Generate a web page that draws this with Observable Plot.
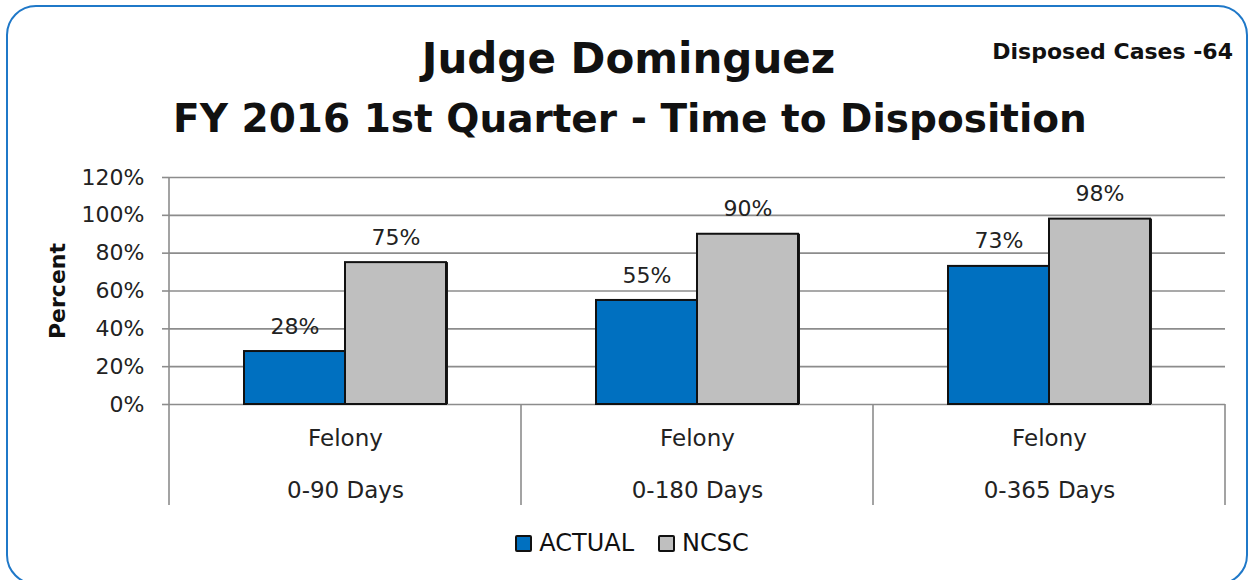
<!DOCTYPE html>
<html>
<head>
<meta charset="utf-8">
<script src="https://cdn.jsdelivr.net/npm/d3@7"></script>
<script src="https://cdn.jsdelivr.net/npm/@observablehq/plot@0.6"></script>
<style>
  html, body { margin: 0; padding: 0; background: #fff; }
  #wrap { position: relative; width: 1255px; height: 580px; overflow: hidden; font-family: "DejaVu Sans", sans-serif; color: #111; }
  #border { position: absolute; left: 6px; top: 5px; width: 1242px; height: 580px; border: 2px solid #1f78c8; border-radius: 30px; box-sizing: border-box; }
  .t { position: absolute; white-space: nowrap; line-height: 1.164; }
  #plot { position: absolute; left: 0; top: 0; }
</style>
</head>
<body>
<div id="wrap">
  <div id="border"></div>
  <div id="plot"></div>
  <div class="t" id="title1" style="left:0;width:1257px;text-align:center;top:35px;font-size:42px;font-weight:700;">Judge Dominguez</div>
  <div class="t" id="title2" style="left:0;width:1260px;text-align:center;top:96px;font-size:39px;font-weight:700;">FY 2016 1st Quarter - Time to Disposition</div>
  <div class="t" id="cases" style="right:22px;top:39px;font-size:22px;font-weight:700;">Disposed Cases -64</div>
  <div class="t" id="ylab" style="left:58px;top:291px;font-size:22px;font-weight:700;transform:translate(-50%,-50%) rotate(-90deg);">Percent</div>
  <div class="t" id="legend" style="left:0;width:1264px;text-align:center;top:530px;font-size:24px;"></div>
</div>
<script>
const categories = ["0-90 Days", "0-180 Days", "0-365 Days"];
const categoryGroup = "Felony";
const series = ["ACTUAL", "NCSC"];
const actualValues = [0.28, 0.55, 0.73];
const ncscValues = [0.75, 0.90, 0.98];
const yTicks = [0, 0.2, 0.4, 0.6, 0.8, 1.0, 1.2];
const seriesColors = ["#0070c0", "#bfbfbf"];

const data = [];
categories.forEach((c, i) => {
  data.push({cat: c, series: series[0], value: actualValues[i]});
  data.push({cat: c, series: series[1], value: ncscValues[i]});
});
const pct = d => Math.round(d * 100) + "%";

const plot = Plot.plot({
  width: 1255,
  height: 580,
  marginLeft: 169,
  marginRight: 30,
  marginTop: 177,
  marginBottom: 176,
  style: {fontFamily: "DejaVu Sans, sans-serif", fontSize: "22px", color: "#222", background: "transparent"},
  fx: {domain: categories, padding: 0, axis: null},
  x: {domain: series, paddingInner: 0, paddingOuter: 0.74, axis: null},
  y: {domain: [0, 1.2], axis: null},
  color: {domain: series, range: seriesColors},
  marks: [
    Plot.ruleY(yTicks, {y: d => d, stroke: "#8c8c8c", strokeWidth: 1.6, strokeOpacity: 1}),
    Plot.axisY({ticks: yTicks, tickFormat: pct, tickSize: 7, tickPadding: 18, stroke: "#8c8c8c", strokeWidth: 1.6, strokeOpacity: 1, fontSize: 22, fill: "#222", label: null}),
    Plot.barY(data, {fx: "cat", x: "series", y: "value", fill: "#1a1a1a", dx: 2}),
    Plot.barY(data, {fx: "cat", x: "series", y: "value", fill: "series", stroke: "#111", strokeWidth: 2}),
    Plot.text(data, {fx: "cat", x: "series", y: "value", text: d => pct(d.value), dy: -25, fontSize: 22, fill: "#222"}),
    Plot.text(categories, {fx: d => d, text: () => categoryGroup, frameAnchor: "bottom", lineAnchor: "middle", dy: 34, fontSize: 23, fill: "#222"}),
    Plot.text(categories, {fx: d => d, text: d => d, frameAnchor: "bottom", lineAnchor: "middle", dy: 86, fontSize: 23, fill: "#222"})
  ]
});
document.getElementById("plot").appendChild(plot);

// axis line and category separators using the plot's own scales
const fx = plot.scale("fx");
const y = plot.scale("y");
const svg = d3.select(plot);
const g = svg.append("g").attr("stroke", "#8c8c8c").attr("stroke-width", 1.6);
const yTop = y.apply(1.2), yBase = y.apply(0), yBottom = yBase + 101;
const bw = fx.bandwidth;
g.append("line").attr("x1", fx.apply(categories[0])).attr("x2", fx.apply(categories[0])).attr("y1", yTop).attr("y2", yBottom);
categories.forEach(c => {
  const x1 = fx.apply(c) + bw;
  g.append("line").attr("x1", x1).attr("x2", x1).attr("y1", yBase).attr("y2", yBottom);
});

// legend
const legend = d3.select("#legend");
series.forEach((s, i) => {
  const item = legend.append("span").style("display", "inline-flex").style("align-items", "center").style("margin", "0 12px 0 12px");
  item.append("span").style("display", "inline-block").style("width", "13px").style("height", "13px")
    .style("background", seriesColors[i]).style("border", "2px solid #111").style("border-radius", "2px").style("margin-right", "7px");
  item.append("span").text(s);
});
</script>
</body>
</html>
